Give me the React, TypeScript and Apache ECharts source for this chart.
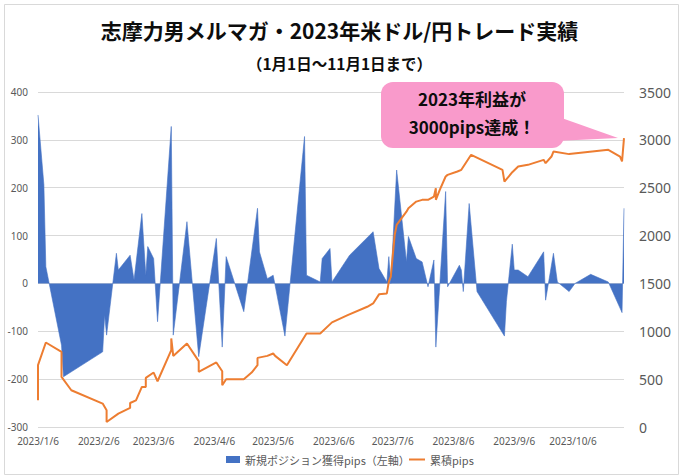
import React, { useEffect, useRef } from "react";
import * as echarts from "echarts";

const titleText = "志摩力男メルマガ・2023年米ドル/円トレード実績";
const subtitleText = "（1月1日～11月1日まで）";
const calloutLines = ["2023年利益が", "3000pips達成！"];
const seriesNames = ["新規ポジション獲得pips（左軸）", "累積pips"];

const xMinDate = "2023-01-06";
const xMaxDate = "2023-11-01";
const tickDates = [
  "2023-01-06", "2023-02-06", "2023-03-06", "2023-04-06", "2023-05-06",
  "2023-06-06", "2023-07-06", "2023-08-06", "2023-09-06", "2023-10-06",
];
const leftMin = -300, leftMax = 400, leftStep = 100;
const rightMin = 0, rightMax = 3500, rightStep = 500;

// 新規ポジション獲得pips（左軸）
const tradeDates = [
  "2023-01-06", "2023-01-09", "2023-01-10", "2023-01-18", "2023-01-19",
  "2023-02-08", "2023-02-09", "2023-02-10", "2023-02-15", "2023-02-16",
  "2023-02-22", "2023-02-24", "2023-02-28", "2023-03-02", "2023-03-03",
  "2023-03-06", "2023-03-08", "2023-03-15", "2023-03-16", "2023-03-23",
  "2023-03-29", "2023-04-07", "2023-04-10", "2023-04-12", "2023-04-21",
  "2023-04-28", "2023-04-29", "2023-05-03", "2023-05-06", "2023-05-12",
  "2023-05-22", "2023-05-23", "2023-05-30", "2023-05-31", "2023-06-04",
  "2023-06-05", "2023-06-14", "2023-06-26", "2023-06-29", "2023-07-03",
  "2023-07-04", "2023-07-05", "2023-07-08", "2023-07-13", "2023-07-14",
  "2023-07-18", "2023-07-21", "2023-07-24", "2023-07-27", "2023-07-28",
  "2023-08-02", "2023-08-03", "2023-08-09", "2023-08-10", "2023-08-11",
  "2023-08-14", "2023-08-18", "2023-09-01", "2023-09-02", "2023-09-05",
  "2023-09-06", "2023-09-08", "2023-09-13", "2023-09-21", "2023-09-22",
  "2023-09-26", "2023-09-28", "2023-10-04", "2023-10-07", "2023-10-15",
  "2023-10-24", "2023-10-31", "2023-11-01",
];
const tradePips = [
  352, 206, 35, -129, -195,
  -143, -66, -108, 63, 28,
  59, 7, 146, 17, 77,
  52, -80, 328, -108, 129,
  -153, 94, -133, 56, -59,
  157, 66, 10, 17, -110,
  307, 17, 3, 52, 73,
  3, 59, 108, 31, 3,
  56, 0, 237, 45, 98,
  52, 45, -7, 49, -133,
  192, -7, 38, 28, -17,
  167, -17, -110, -38, 82,
  28, 28, 14, 66, -35,
  63, 3, -17, 0, 19,
  3, -61, 157,
];

// 累積pips
const cumDates = [
  "2023-01-06", "2023-01-06", "2023-01-10", "2023-01-18", "2023-01-18",
  "2023-01-23", "2023-02-08", "2023-02-10", "2023-02-10", "2023-02-16",
  "2023-02-22", "2023-02-22", "2023-02-25", "2023-02-28", "2023-03-02",
  "2023-03-02", "2023-03-06", "2023-03-08", "2023-03-15", "2023-03-15",
  "2023-03-16", "2023-03-23", "2023-03-29", "2023-03-29", "2023-04-07",
  "2023-04-10", "2023-04-10", "2023-04-12", "2023-04-21", "2023-04-25",
  "2023-04-28", "2023-04-28", "2023-05-03", "2023-05-06", "2023-05-07",
  "2023-05-13", "2023-05-23", "2023-05-30", "2023-06-05", "2023-06-13",
  "2023-06-23", "2023-06-26", "2023-06-29", "2023-07-03", "2023-07-04",
  "2023-07-05", "2023-07-07", "2023-07-08", "2023-07-13", "2023-07-14",
  "2023-07-18", "2023-07-21", "2023-07-24", "2023-07-27", "2023-07-28",
  "2023-07-28", "2023-07-30", "2023-08-02", "2023-08-03", "2023-08-08",
  "2023-08-10", "2023-08-15", "2023-08-31", "2023-09-01", "2023-09-05",
  "2023-09-08", "2023-09-13", "2023-09-21", "2023-09-22", "2023-09-25",
  "2023-09-26", "2023-10-04", "2023-10-24", "2023-10-30", "2023-10-31",
  "2023-11-01",
];
const cumPips = [
  279, 646, 883, 785, 523,
  384, 245, 175, 52, 140,
  199, 251, 279, 419, 419,
  513, 569, 478, 803, 925,
  743, 873, 688, 576, 674,
  583, 436, 499, 499, 569,
  646, 722, 743, 768, 743,
  646, 977, 977, 1093, 1169,
  1256, 1291, 1386, 1396, 1518,
  1570, 2006, 2111, 2250, 2286,
  2355, 2373, 2373, 2407, 2495,
  2373, 2477, 2617, 2634, 2669,
  2687, 2844, 2687, 2564, 2662,
  2721, 2739, 2791, 2756, 2826,
  2878, 2851, 2896, 2826, 2774,
  3018,
];

const ts = (s: string) => {
  const [y, m, d] = s.split("-").map(Number);
  return Date.UTC(y, m - 1, d);
};
const fmtDate = (v: number) => {
  const dt = new Date(v);
  return `${dt.getUTCFullYear()}/${dt.getUTCMonth() + 1}/${dt.getUTCDate()}`;
};

const CJK = '"Noto Sans CJK JP", "Noto Sans", sans-serif';
const LABEL_FONT = '"Noto Sans", "Noto Sans CJK JP", sans-serif';

export default function App() {
  const ref = useRef<HTMLDivElement>(null);
  useEffect(() => {
    if (!ref.current) return;
    const chart = echarts.init(ref.current, undefined, { renderer: "svg" });
    const legendText = { fontSize: 11, color: "#595959", fontFamily: CJK };
    const option: any = {
      animation: false,
      backgroundColor: "#ffffff",
      textStyle: { fontFamily: CJK },
      title: [
        {
          text: titleText,
          left: "center",
          top: 14,
          textStyle: { fontSize: 21, fontWeight: "bold", color: "#0d0d0d", fontFamily: CJK },
        },
        {
          text: subtitleText,
          left: "center",
          top: 50,
          textStyle: { fontSize: 15.5, fontWeight: "bold", color: "#0d0d0d", fontFamily: CJK },
        },
      ],
      grid: { left: 38, right: 55, top: 92, bottom: 48, containLabel: false },
      legend: [
        {
          left: 221,
          top: 449,
          itemWidth: 14,
          itemHeight: 7,
          itemGap: 4,
          textStyle: legendText,
          data: [{ name: seriesNames[0], icon: "rect" }],
        },
        {
          left: 404,
          top: 449,
          itemWidth: 16,
          itemHeight: 2,
          itemGap: 4,
          textStyle: legendText,
          data: [{ name: seriesNames[1], icon: "rect" }],
        },
      ],
      xAxis: {
        type: "value",
        min: ts(xMinDate),
        max: ts(xMaxDate),
        axisLine: { show: false },
        axisTick: { show: false },
        splitLine: { show: false },
        axisLabel: {
          customValues: tickDates.map(ts),
          formatter: (v: number) => fmtDate(v),
          fontSize: 10,
          color: "#595959",
          margin: 9,
          fontFamily: LABEL_FONT,
          hideOverlap: false,
        },
      },
      yAxis: [
        {
          type: "value",
          min: leftMin,
          max: leftMax,
          interval: leftStep,
          axisLine: { show: false },
          axisTick: { show: false },
          splitLine: { show: true, lineStyle: { color: "#d9d9d9", width: 1 } },
          axisLabel: {
            fontSize: 10,
            color: "#595959",
            margin: 10,
            fontFamily: LABEL_FONT,
            formatter: (v: number) => String(v),
          },
        },
        {
          type: "value",
          min: rightMin,
          max: rightMax,
          interval: rightStep,
          position: "right",
          axisLine: { show: false },
          axisTick: { show: false },
          splitLine: { show: false },
          axisLabel: {
            fontSize: 14,
            color: "#595959",
            margin: 15,
            fontFamily: LABEL_FONT,
            formatter: (v: number) => String(v),
          },
        },
      ],
      series: [
        {
          name: seriesNames[0],
          type: "line",
          yAxisIndex: 0,
          symbol: "none",
          color: "#4472C4",
          lineStyle: { width: 0.6, color: "#4472C4" },
          areaStyle: { color: "#4472C4", opacity: 1, origin: "auto" },
          data: tradeDates.map((d, i) => [ts(d), tradePips[i]]),
          z: 2,
        },
        {
          name: seriesNames[1],
          type: "line",
          yAxisIndex: 1,
          symbol: "none",
          color: "#ED7D31",
          lineStyle: { width: 2, color: "#ED7D31" },
          data: cumDates.map((d, i) => [ts(d), cumPips[i]]),
          z: 3,
        },
      ],
      graphic: [
        {
          type: "rect",
          left: 2,
          top: 2,
          z: 0,
          silent: true,
          shape: { width: 674, height: 470 },
          style: { fill: "none", stroke: "#d9d9d9", lineWidth: 1 },
        },
        {
          type: "polygon",
          z: 100,
          shape: { points: [[556, 116], [618, 138], [556, 141]] },
          style: { fill: "#F99ACB" },
        },
        {
          type: "rect",
          z: 100,
          shape: { x: 381, y: 82, width: 183, height: 66, r: 12 },
          style: { fill: "#F99ACB" },
        },
        {
          type: "text",
          z: 101,
          style: {
            text: calloutLines[0],
            x: 472,
            y: 98,
            textAlign: "center",
            textVerticalAlign: "middle",
            font: `bold 17px ${CJK}`,
            fill: "#0d0d0d",
          },
        },
        {
          type: "text",
          z: 101,
          style: {
            text: calloutLines[1],
            x: 472,
            y: 126,
            textAlign: "center",
            textVerticalAlign: "middle",
            font: `bold 17px ${CJK}`,
            fill: "#0d0d0d",
          },
        },
      ],
    };
    chart.setOption(option);
    return () => chart.dispose();
  }, []);
  return (
    <div
      ref={ref}
      style={{ position: "fixed", left: 0, top: 0, width: 679, height: 475, background: "#fff" }}
    />
  );
}
